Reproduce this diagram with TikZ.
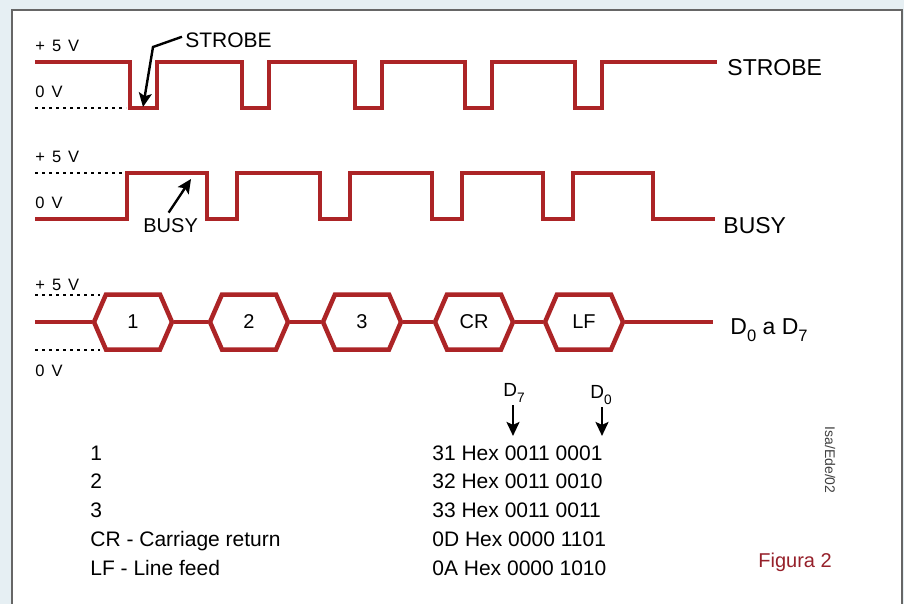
\documentclass[tikz,border=0pt]{standalone}
\usepackage{fontspec}
\setmainfont{Liberation Sans}
\usetikzlibrary{arrows.meta, shapes.symbols}

\definecolor{sigred}{RGB}{172,36,38}
\definecolor{figred}{RGB}{150,32,42}
\definecolor{paper}{RGB}{230,239,243}

\newcommand{\lowidx}[1]{\raisebox{-0.32em}{\scalebox{0.72}{#1}}}
\newcommand{\wsp}{\hspace{7pt}}

\begin{document}
\begin{tikzpicture}[%
    x=1pt, y=-1pt,
    wave/.style={draw=sigred, line width=4.5pt},
    hexa/.style={shape=signal, signal to=east and west, signal pointer angle=133,
      draw=sigred, line width=4.5pt, minimum width=78pt, minimum height=55pt,
      inner sep=0pt, font=\fontsize{20}{20}\selectfont},
    level/.style={dash pattern=on 3pt off 4pt, line width=1.5pt},
    volt/.style={anchor=base west, inner sep=0pt, font=\fontsize{16.5}{16.5}\selectfont},
    siglab/.style={anchor=base west, inner sep=0pt, font=\fontsize{23}{23}\selectfont},
    legtxt/.style={anchor=base west, inner sep=0pt, font=\fontsize{21}{21}\selectfont},
    callout/.style={line width=2.4pt, -{Stealth[length=14pt, width=13pt, inset=3pt]}},
    thick
  ]

  % page and frame
  \useasboundingbox (0,0) rectangle (904,604);
  \fill[paper] (0,0) rectangle (904,604);
  \fill[white] (12,10) rectangle (902,640);
  \draw[gray!80!black, line width=1.2pt] (12,10) rectangle (902,640);

  % STROBE
  \node[volt] (s5) at (35,52) {+\wsp 5\wsp V};
  \node[volt] (s0) at (35,98) {0\wsp V};
  \draw[level] (35,108) -- (126,108);
  \draw[wave] (35,62) foreach \x in {130,242,355,465,575} { -| (\x,108) -| ({\x+27},62) } -- (717,62);
  \node[siglab] (strobeR) at (727,76) {STROBE};
  \node[anchor=base west, inner sep=0pt, font=\fontsize{21}{21}\selectfont] (strobeL) at (185,48) {STROBE};
  \coordinate (strobept) at (143,107);
  \draw[callout] ([xshift=-3pt, yshift=4pt]strobeL.west) -- (153,47) -- (strobept);

  % BUSY
  \node[volt] (b5) at (35,163) {+\wsp 5\wsp V};
  \node[volt] (b0) at (35,208) {0\wsp V};
  \draw[level] (35,173) -- (124,173);
  \draw[wave] (35,219) -| (127,173) foreach \x in {207,320,432,543} { -| (\x,219) -| ({\x+30},173) } -| (653,219) -- (715,219);
  \node[siglab] (busyR) at (723,233) {BUSY};
  \node[anchor=base west, inner sep=0pt, font=\fontsize{20}{20}\selectfont] (busyL) at (143,232) {BUSY};
  \coordinate (busypt) at (191,179);
  \draw[callout] ([xshift=-2pt, yshift=5pt]busyL.north) -- (busypt);

  % D0 a D7
  \node[volt] (d5) at (35,290) {+\wsp 5\wsp V};
  \node[volt] (d0v) at (35,376) {0\wsp V};
  \draw[level] (35,295) -- (100,295);
  \draw[level] (35,350) -- (100,350);
  \node[hexa] (h1) at (133,322) {1};
  \node[hexa] (h2) at (249,322) {2};
  \node[hexa] (h3) at (362,322) {3};
  \node[hexa] (h4) at (474,322) {CR};
  \node[hexa] (h5) at (584,322) {LF};
  \node[siglab] (dataR) at (730,334) {D\lowidx{0} a D\lowidx{7}};
  \draw[wave] (35,322) -- (h1.west);
  \foreach \a/\b in {h1/h2, h2/h3, h3/h4, h4/h5}
    \draw[wave] (\a.east) -- (\b.west);
  \draw[wave] (h5.east) -- (713,322);

  % table
  \foreach \y/\a/\b [count=\i] in {460/1/31 Hex 0011 0001, 488.5/2/32 Hex 0011 0010,
      517/3/33 Hex 0011 0011, 546/CR - Carriage return/0D Hex 0000 1101,
      575/LF - Line feed/0A Hex 0000 1010} {
    \node[legtxt] (la\i) at (90,\y) {\a};
    \node[legtxt] (lb\i) at (432,\y) {\b};
  }
  \node[anchor=base, inner sep=0pt, font=\fontsize{19}{19}\selectfont] (d7) at (514,396) {D\lowidx{7}};
  \node[anchor=base, inner sep=0pt, font=\fontsize{19}{19}\selectfont] (d0) at (601,398) {D\lowidx{0}};
  \coordinate (d7top) at (513,405);
  \coordinate (d0top) at (602,407);
  \draw[callout, shorten >=9pt] (d7top) -- (d7top |- lb1.north);
  \draw[callout, shorten >=9pt] (d0top) -- (d0top |- lb1.north);

  \node[rotate=-90, inner sep=0pt, text=black!75, font=\fontsize{14}{14}\selectfont] (sign) at (830,460) {Isa/Ede/02};
  \node[anchor=base west, inner sep=0pt, text=figred, font=\fontsize{20}{20}\selectfont] (fig) at (758,567) {Figura 2};
\end{tikzpicture}
\end{document}
